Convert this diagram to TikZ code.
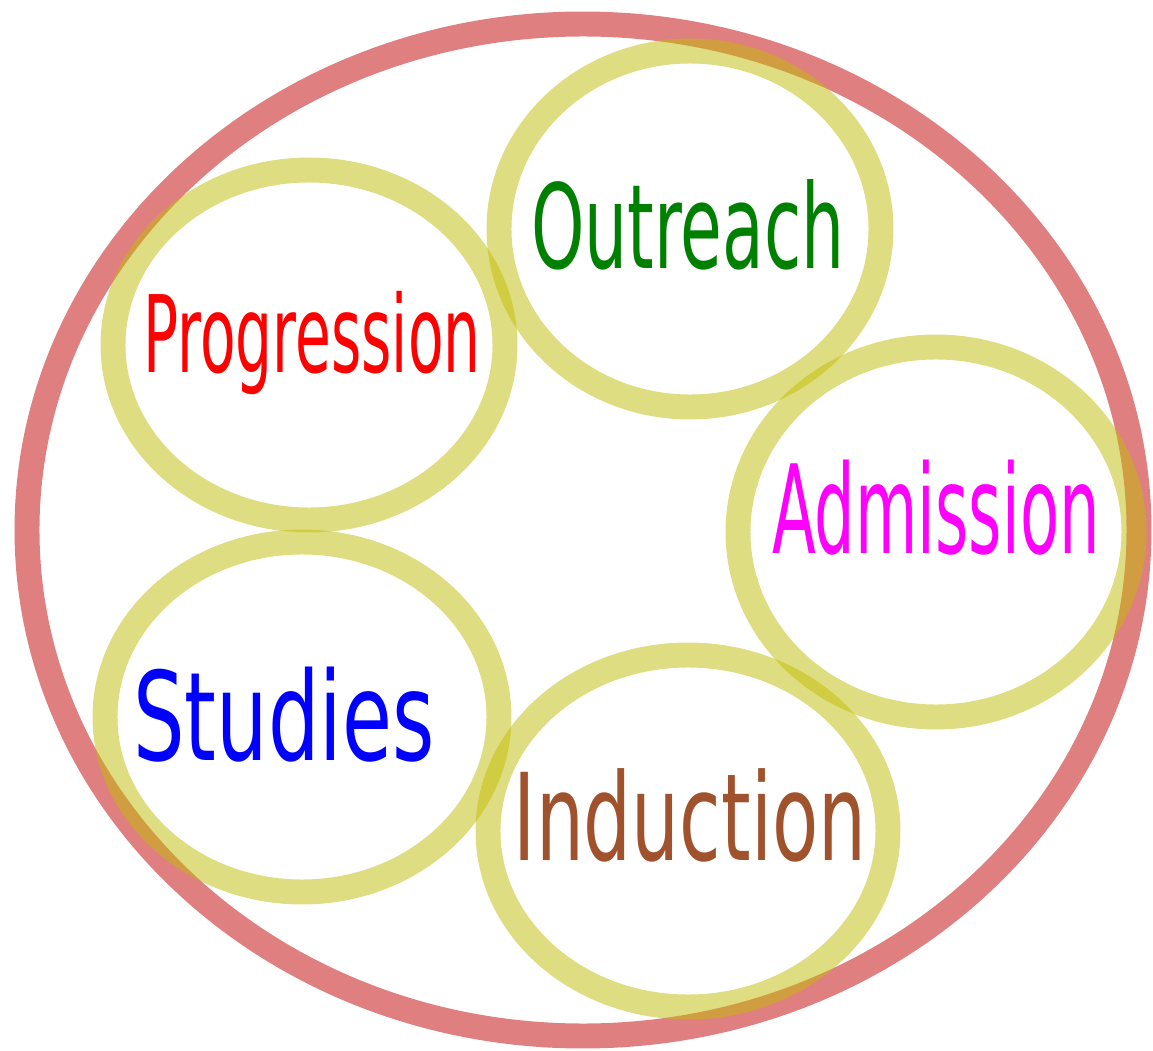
\documentclass[tikz,border=0pt]{standalone}
\usepackage{fontspec}
\setmainfont{DejaVu Sans}
\usepackage{tikz}
\definecolor{ringred}{RGB}{193,0,0}
\definecolor{ringyellow}{RGB}{192,188,4}
\definecolor{sienna}{RGB}{160,82,45}
\definecolor{leafgreen}{RGB}{0,128,0}
\definecolor{pinkish}{RGB}{255,0,255}

\begin{document}
\begin{tikzpicture}[x=0.01cm,y=-0.01cm,
  ring/.style={line width=7.1pt,draw opacity=.5},
  word/.style={inner sep=0,anchor=base}]
\useasboundingbox (0,0) rectangle (1153,1051);
\draw[ring,ringred] (583,530) ellipse [x radius=556,y radius=506];
% the five stages
\draw[ring,ringyellow] (309,345) ellipse [x radius=196,y radius=175];
\draw[ring,ringyellow] (690,229) ellipse [x radius=191,y radius=178];
\draw[ring,ringyellow] (936,532) ellipse [x radius=198,y radius=185];
\draw[ring,ringyellow] (302,717) ellipse [x radius=197,y radius=175];
\draw[ring,ringyellow] (688,831) ellipse [x radius=200,y radius=176];
\node[word,red,font=\fontsize{30.4}{36}\selectfont,xscale=.545] (progression) at (312,372) {Progression};
\node[word,leafgreen,font=\fontsize{33.3}{40}\selectfont,xscale=.58] (outreach) at (688,268) {Outreach};
\node[word,pinkish,font=\fontsize{35}{42}\selectfont,xscale=.52] (admission) at (936,553) {Admission};
\node[word,blue,font=\fontsize{35}{42}\selectfont,xscale=.66] (studies) at (284,760) {Studies};
\node[word,sienna,font=\fontsize{34.4}{41}\selectfont,xscale=.625] (induction) at (690,860) {Induction};
\end{tikzpicture}
\end{document}
